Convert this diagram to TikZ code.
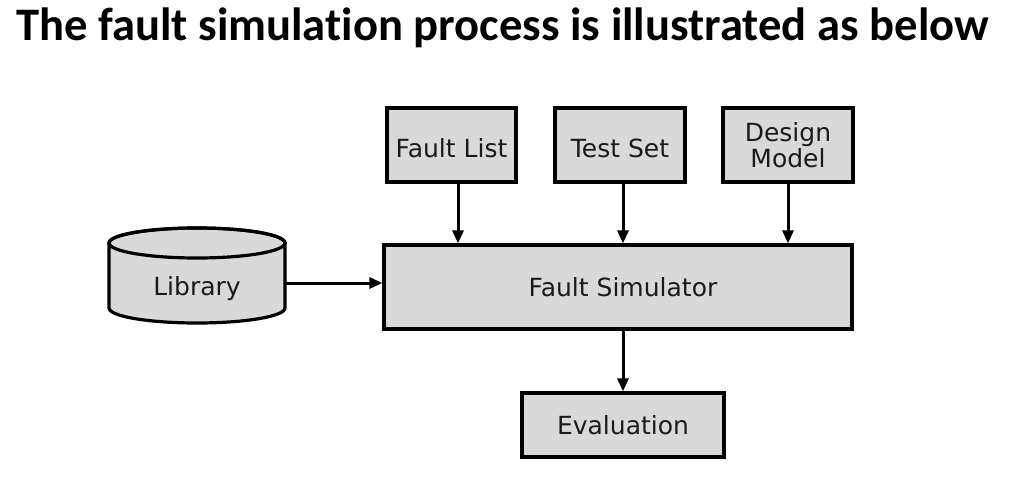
\documentclass[tikz,border=0pt]{standalone}
\usepackage{fontspec}
\setmainfont{DejaVu Sans}
\newfontfamily\titlefont[Ligatures=NoCommon]{Carlito}
\usetikzlibrary{arrows.meta}
\definecolor{boxfill}{HTML}{D9D9D9}
\definecolor{txt}{HTML}{1A1A1A}
\newcommand{\lowertext}[1]{\raisebox{-3pt}[\height][\depth]{#1}}
\tikzset{
  blk/.style={draw=black, line width=3.2pt, fill=boxfill, rectangle, inner sep=0pt,
    text=txt, font=\fontsize{25}{30}\selectfont, align=center},
  conn/.style={line width=3pt, -{Triangle[length=13pt,width=11pt]}},
}
\begin{document}
\begin{tikzpicture}[x=1pt,y=-1pt]
\useasboundingbox[fill=white] (0,0) rectangle (1010,490);
\node[anchor=base west, inner sep=0pt, font=\titlefont\bfseries\fontsize{46.6}{55}\selectfont] (title) at (16,40) {The fault simulation process is illustrated as below};
% boxes
\node[blk, minimum width=129pt, minimum height=74pt] (fl) at (451.5,145) {\lowertext{Fault List}};
\node[blk, minimum width=130pt, minimum height=74pt] (ts) at (620,145) {\lowertext{Test Set}};
\node[blk, minimum width=130pt, minimum height=74pt] (dm) at (788,145) {Design\\[-4pt]Model};
\node[blk, minimum width=468pt, minimum height=84pt] (sim) at (618,287) {\hspace*{10pt}Fault Simulator};
\node[blk, minimum width=202pt, minimum height=64pt] (ev) at (623,425) {Evaluation};
% library cylinder
\filldraw[draw=black, line width=3.2pt, fill=boxfill] (109,243) -- (109,308)
  arc[start angle=180, end angle=360, x radius=88pt, y radius=15pt] -- (285,243)
  arc[start angle=0, end angle=180, x radius=88pt, y radius=15pt] -- cycle;
\draw[line width=3.2pt] (197,243) ellipse [x radius=88pt, y radius=15pt];
\node[inner sep=0pt, minimum width=176pt, minimum height=30pt, text=txt, font=\fontsize{25}{30}\selectfont] (lib) at (197,289) {Library};
% connectors
\draw[conn] ([xshift=6.5pt]fl.south) -- ([xshift=6.5pt]fl.south |- sim.north);
\draw[conn] ([xshift=3pt]ts.south) -- ([xshift=3pt]ts.south |- sim.north);
\draw[conn] (dm.south) -- (dm.south |- sim.north);
\draw[conn] (lib.east |- 0,283) -- (sim.west |- 0,283);
\draw[conn] (sim.south -| ev.north) -- (ev.north);
\end{tikzpicture}
\end{document}
